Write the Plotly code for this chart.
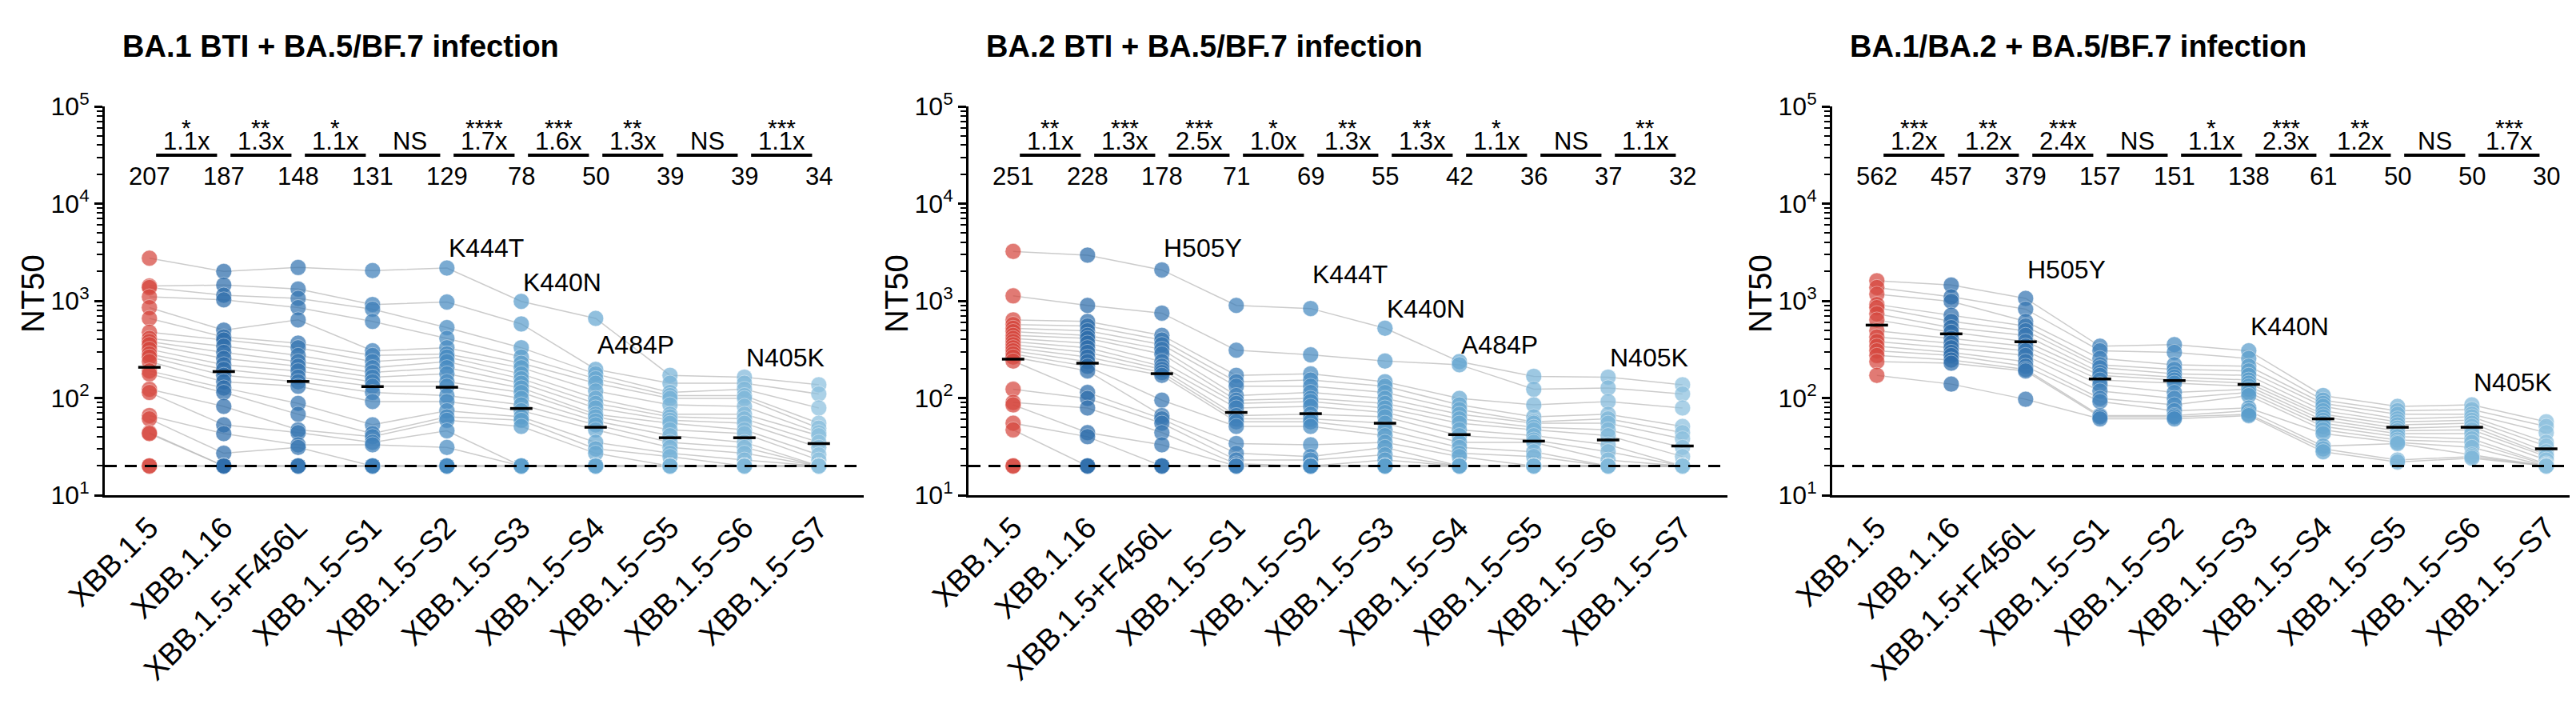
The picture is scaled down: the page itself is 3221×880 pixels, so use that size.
import plotly.graph_objects as go

W, H = 3221, 880

variants = ["XBB.1.5", "XBB.1.16", "XBB.1.5+F456L", "XBB.1.5−S1", "XBB.1.5−S2",
            "XBB.1.5−S3", "XBB.1.5−S4", "XBB.1.5−S5", "XBB.1.5−S6", "XBB.1.5−S7"]

panel_titles = ["BA.1 BTI + BA.5/BF.7 infection",
                "BA.2 BTI + BA.5/BF.7 infection",
                "BA.1/BA.2 + BA.5/BF.7 infection"]

# ---------------- Panel 1: BA.1 BTI + BA.5/BF.7 (NT50 per participant, ranked) ----------------
ba1_xbb15 = [2744, 1420, 1370, 1099, 851, 659, 475, 410, 381, 354, 317, 284, 264, 237, 190, 177, 123, 114, 66, 61, 44, 43, 20, 20]
ba1_xbb116 = [2004, 1452, 1141, 1023, 499, 425, 395, 341, 295, 255, 220, 197, 171, 147, 127, 114, 82, 53, 43, 27, 20, 20, 20, 20]
ba1_f456l = [2203, 1321, 1059, 851, 636, 367, 329, 274, 237, 212, 190, 164, 147, 132, 88, 68, 47, 44, 33, 31, 20, 20, 20, 20]
ba1_s1 = [2046, 916, 820, 613, 306, 274, 237, 205, 183, 164, 147, 132, 114, 92, 53, 43, 40, 35, 33, 20, 20, 20, 20, 20]
ba1_s2 = [2173, 971, 530, 410, 329, 284, 264, 237, 205, 177, 147, 132, 106, 92, 74, 64, 59, 46, 31, 20, 20, 20, 20, 20]
ba1_s3 = [986, 578, 329, 264, 228, 205, 177, 158, 142, 127, 114, 99, 85, 74, 64, 59, 51, 20, 20, 20, 20, 20, 20, 20]
ba1_s4 = [659, 197, 177, 158, 142, 118, 99, 88, 79, 68, 64, 58, 53, 47, 35, 30, 27, 20, 20, 20, 20, 20, 20, 20]
ba1_s5 = [171, 142, 114, 106, 99, 85, 68, 64, 59, 55, 47, 41, 35, 31, 27, 25, 20, 20, 20, 20, 20, 20, 20, 20]
ba1_s6 = [164, 142, 123, 106, 99, 82, 68, 61, 55, 47, 43, 35, 31, 27, 23, 20, 20, 20, 20, 20, 20, 20, 20, 20]
ba1_s7 = [137, 110, 79, 55, 49, 44, 41, 35, 31, 26, 23, 20, 20, 20, 20, 20, 20, 20, 20, 20, 20, 20, 20, 20]
ba1_gmt = [207, 187, 148, 131, 129, 78, 50, 39, 39, 34]
ba1_stars = ["*", "**", "*", "", "****", "***", "**", "", "***"]
ba1_folds = ["1.1x", "1.3x", "1.1x", "NS", "1.7x", "1.6x", "1.3x", "NS", "1.1x"]
ba1_mut_text = ["K444T", "K440N", "A484P", "N405K"]
ba1_mut_col = [4, 5, 6, 8]

# ---------------- Panel 2: BA.2 BTI + BA.5/BF.7 ----------------
ba2_xbb15 = [3221, 1124, 636, 570, 522, 482, 441, 410, 381, 354, 329, 306, 284, 264, 240, 123, 90, 85, 55, 47, 20, 20]
ba2_xbb116 = [2951, 896, 613, 550, 492, 441, 410, 367, 329, 295, 264, 237, 212, 190, 114, 99, 79, 44, 40, 20, 20, 20]
ba2_f456l = [2077, 747, 441, 395, 354, 317, 284, 237, 212, 197, 183, 171, 95, 66, 61, 55, 44, 33, 20, 20, 20, 20]
ba2_s1 = [896, 310, 171, 147, 132, 106, 95, 88, 79, 66, 61, 57, 51, 34, 27, 23, 21, 20, 20, 20, 20, 20]
ba2_s2 = [833, 278, 177, 153, 132, 114, 99, 92, 82, 68, 61, 57, 51, 33, 25, 23, 20, 20, 20, 20, 20, 20]
ba2_s3 = [522, 240, 147, 132, 114, 99, 88, 79, 71, 64, 55, 47, 41, 35, 31, 26, 23, 20, 20, 20, 20, 20]
ba2_s4 = [237, 220, 99, 85, 76, 68, 61, 55, 47, 41, 35, 31, 27, 25, 20, 20, 20, 20, 20, 20, 20, 20]
ba2_s5 = [167, 123, 85, 64, 57, 55, 50, 47, 41, 37, 35, 28, 25, 20, 20, 20, 20, 20, 20, 20, 20, 20]
ba2_s6 = [164, 127, 92, 68, 61, 55, 47, 41, 33, 28, 23, 20, 20, 20, 20, 20, 20, 20, 20, 20, 20, 20]
ba2_s7 = [137, 110, 79, 51, 44, 38, 31, 25, 20, 20, 20, 20, 20, 20, 20, 20, 20, 20, 20, 20, 20, 20]
ba2_gmt = [251, 228, 178, 71, 69, 55, 42, 36, 37, 32]
ba2_stars = ["**", "***", "***", "*", "**", "**", "*", "", "**"]
ba2_folds = ["1.1x", "1.3x", "2.5x", "1.0x", "1.3x", "1.3x", "1.1x", "NS", "1.1x"]
ba2_mut_text = ["H505Y", "K444T", "K440N", "A484P", "N405K"]
ba2_mut_col = [2, 4, 5, 6, 8]

# ---------------- Panel 3: BA.1/BA.2 + BA.5/BF.7 ----------------
ba12_xbb15 = [1608, 1370, 1167, 916, 851, 736, 636, 492, 425, 381, 341, 306, 274, 237, 171]
ba12_xbb116 = [1452, 1099, 986, 710, 613, 530, 475, 410, 367, 329, 295, 274, 246, 228, 139]
ba12_f456l = [1059, 820, 613, 550, 492, 441, 381, 341, 306, 274, 237, 212, 197, 190, 97]
ba12_s1 = [341, 306, 255, 220, 205, 183, 171, 153, 137, 118, 99, 92, 66, 64, 61]
ba12_s2 = [354, 295, 220, 197, 177, 164, 153, 142, 114, 99, 85, 74, 66, 64, 61]
ba12_s3 = [306, 255, 212, 190, 171, 153, 142, 132, 123, 114, 106, 79, 74, 68, 66]
ba12_s4 = [106, 95, 88, 82, 74, 68, 64, 59, 55, 51, 47, 43, 32, 30, 28]
ba12_s5 = [82, 74, 68, 61, 57, 53, 49, 46, 43, 40, 37, 35, 34, 23, 22]
ba12_s6 = [85, 76, 68, 64, 59, 55, 51, 47, 43, 38, 35, 31, 26, 25, 24]
ba12_s7 = [57, 51, 44, 35, 32, 28, 26, 25, 23, 21, 20.5, 20, 20, 20, 20]
ba12_gmt = [562, 457, 379, 157, 151, 138, 61, 50, 50, 30]
ba12_stars = ["***", "**", "***", "", "*", "***", "**", "", "***"]
ba12_folds = ["1.2x", "1.2x", "2.4x", "NS", "1.1x", "2.3x", "1.2x", "NS", "1.7x"]
ba12_mut_text = ["H505Y", "K440N", "N405K"]
ba12_mut_col = [2, 5, 8]

detection_limit = 20

panels = [
    dict(cols=[ba1_xbb15, ba1_xbb116, ba1_f456l, ba1_s1, ba1_s2, ba1_s3, ba1_s4, ba1_s5, ba1_s6, ba1_s7],
         gmt=ba1_gmt, stars=ba1_stars, folds=ba1_folds, mut=ba1_mut_text, mutcol=ba1_mut_col,
         muty=[302, 345, 423, 439]),
    dict(cols=[ba2_xbb15, ba2_xbb116, ba2_f456l, ba2_s1, ba2_s2, ba2_s3, ba2_s4, ba2_s5, ba2_s6, ba2_s7],
         gmt=ba2_gmt, stars=ba2_stars, folds=ba2_folds, mut=ba2_mut_text, mutcol=ba2_mut_col,
         muty=[302, 335, 378, 423, 439]),
    dict(cols=[ba12_xbb15, ba12_xbb116, ba12_f456l, ba12_s1, ba12_s2, ba12_s3, ba12_s4, ba12_s5, ba12_s6, ba12_s7],
         gmt=ba12_gmt, stars=ba12_stars, folds=ba12_folds, mut=ba12_mut_text, mutcol=ba12_mut_col,
         muty=[329, 400, 470]),
]

# ---------------- styling / layout (pixels) ----------------
colors = ["#D6483F", "#2E6DAB", "#3676B2", "#3F80BA", "#478BC2",
          "#5B9ECC", "#68A8D2", "#78B3D8", "#80B8DA", "#8CC0DE"]
FONT = "Arial, 'Liberation Sans', sans-serif"
axis_left_px = [123, 1203, 2283]
cat_px = 93.0
x_top_px, x_bot_px = 125, 611   # 1e5 and 1e1 levels

def py(ypx):
    return (H - ypx) / H

fig = go.Figure()
annotations = []
shapes = []

for p, pan in enumerate(panels):
    sfx = "" if p == 0 else str(p + 1)
    xa, ya = "x" + sfx, "y" + sfx
    cols = pan["cols"]
    n = len(cols[0])

    # participant connecting lines
    lx, ly = [], []
    for i in range(n):
        for j in range(10):
            lx.append(j)
            ly.append(cols[j][i])
        lx.append(None)
        ly.append(None)
    fig.add_trace(go.Scatter(x=lx, y=ly, mode="lines", xaxis=xa, yaxis=ya,
                             line=dict(color="rgba(185,185,185,0.75)", width=1.5),
                             hoverinfo="skip", showlegend=False))
    # points
    for j in range(10):
        fig.add_trace(go.Scatter(x=[j] * n, y=cols[j], mode="markers", xaxis=xa, yaxis=ya,
                                 marker=dict(size=20, color=colors[j], opacity=0.72,
                                             line=dict(color="rgba(255,255,255,0.55)", width=1)),
                                 showlegend=False))
    # detection limit
    fig.add_trace(go.Scatter(x=[-0.6, 9.6], y=[detection_limit, detection_limit], mode="lines",
                             xaxis=xa, yaxis=ya,
                             line=dict(color="black", width=3, dash="15px,10px"),
                             hoverinfo="skip", showlegend=False))
    # geometric mean bars
    bx, by = [], []
    for j in range(10):
        bx += [j - 0.15, j + 0.15, None]
        by += [pan["gmt"][j], pan["gmt"][j], None]
    fig.add_trace(go.Scatter(x=bx, y=by, mode="lines", xaxis=xa, yaxis=ya,
                             line=dict(color="black", width=3.5),
                             hoverinfo="skip", showlegend=False))

    # top annotations
    for j in range(9):
        if pan["stars"][j]:
            annotations.append(dict(x=j + 0.5, y=py(151), xref=xa, yref="paper",
                                    xanchor="center", yanchor="middle",
                                    text=pan["stars"][j], showarrow=False,
                                    font=dict(size=30, color="black", family=FONT)))
        annotations.append(dict(x=j + 0.5, y=py(169), xref=xa, yref="paper",
                                xanchor="center", yanchor="middle",
                                text=pan["folds"][j], showarrow=False,
                                font=dict(size=31, color="black", family=FONT)))
        shapes.append(dict(type="line", xref=xa, yref="paper", x0=j + 0.09, x1=j + 0.91,
                           y0=py(186), y1=py(186), line=dict(color="black", width=4)))
    for j in range(10):
        annotations.append(dict(x=j, y=py(212), xref=xa, yref="paper",
                                xanchor="center", yanchor="middle",
                                text=str(pan["gmt"][j]), showarrow=False,
                                font=dict(size=31, color="black", family=FONT)))
    for t, c, yy in zip(pan["mut"], pan["mutcol"], pan["muty"]):
        annotations.append(dict(x=c, y=py(yy), xref=xa, yref="paper",
                                xanchor="left", yanchor="middle",
                                text=t, showarrow=False,
                                font=dict(size=32, color="black", family=FONT)))
    # panel title and y title
    ax_px = axis_left_px[p]
    annotations.append(dict(x=(ax_px + 20) / W, y=py(50), xref="paper", yref="paper",
                            xanchor="left", yanchor="middle",
                            text="<b>" + panel_titles[p] + "</b>", showarrow=False,
                            font=dict(size=38, color="black", family=FONT)))
    annotations.append(dict(x=(ax_px - 90) / W, y=py(359), xref="paper", yref="paper",
                            xanchor="center", yanchor="middle",
                            text="NT50", textangle=-90, showarrow=False,
                            font=dict(size=40, color="black", family=FONT)))

    x0 = ax_px / W
    x1 = min((ax_px + 10.2 * cat_px) / W, 1.0)
    xr_max = -0.6 + (x1 * W - ax_px) / cat_px
    fig.update_layout(**{
        "xaxis" + sfx: dict(domain=[x0, x1], anchor=ya, range=[-0.6, xr_max], automargin=False,
                            tickmode="array", tickvals=list(range(10)), ticktext=variants,
                            tickangle=-45, ticks="", showline=True, linewidth=3, linecolor="black",
                            showgrid=False, zeroline=False,
                            tickfont=dict(size=38, color="black", family=FONT)),
        "yaxis" + sfx: dict(domain=[py(x_bot_px), py(x_top_px)], anchor=xa, type="log", range=[1, 5],
                            automargin=False,
                            tickmode="array", tickvals=[10, 100, 1000, 10000, 100000],
                            ticktext=["10<sup>1</sup>", "10<sup>2</sup>", "10<sup>3</sup>",
                                      "10<sup>4</sup>", "10<sup>5</sup>"],
                            ticks="outside", ticklen=10, tickwidth=3, tickcolor="black",
                            showline=True, linewidth=3, linecolor="black",
                            showgrid=False, zeroline=False,
                            minor=dict(tickmode="array",
                                       tickvals=[m * 10 ** k for k in range(1, 5) for m in range(2, 10)],
                                       ticks="outside", ticklen=7, tickwidth=2, tickcolor="black",
                                       showgrid=False),
                            tickfont=dict(size=32, color="black", family=FONT)),
    })

fig.update_layout(width=W, height=H,
                  margin=dict(l=0, r=0, t=0, b=0, pad=0, autoexpand=False),
                  template="none",
                  paper_bgcolor="white", plot_bgcolor="white", showlegend=False,
                  annotations=annotations, shapes=shapes,
                  font=dict(family=FONT, color="black"))

fig.write_html("out.html")
